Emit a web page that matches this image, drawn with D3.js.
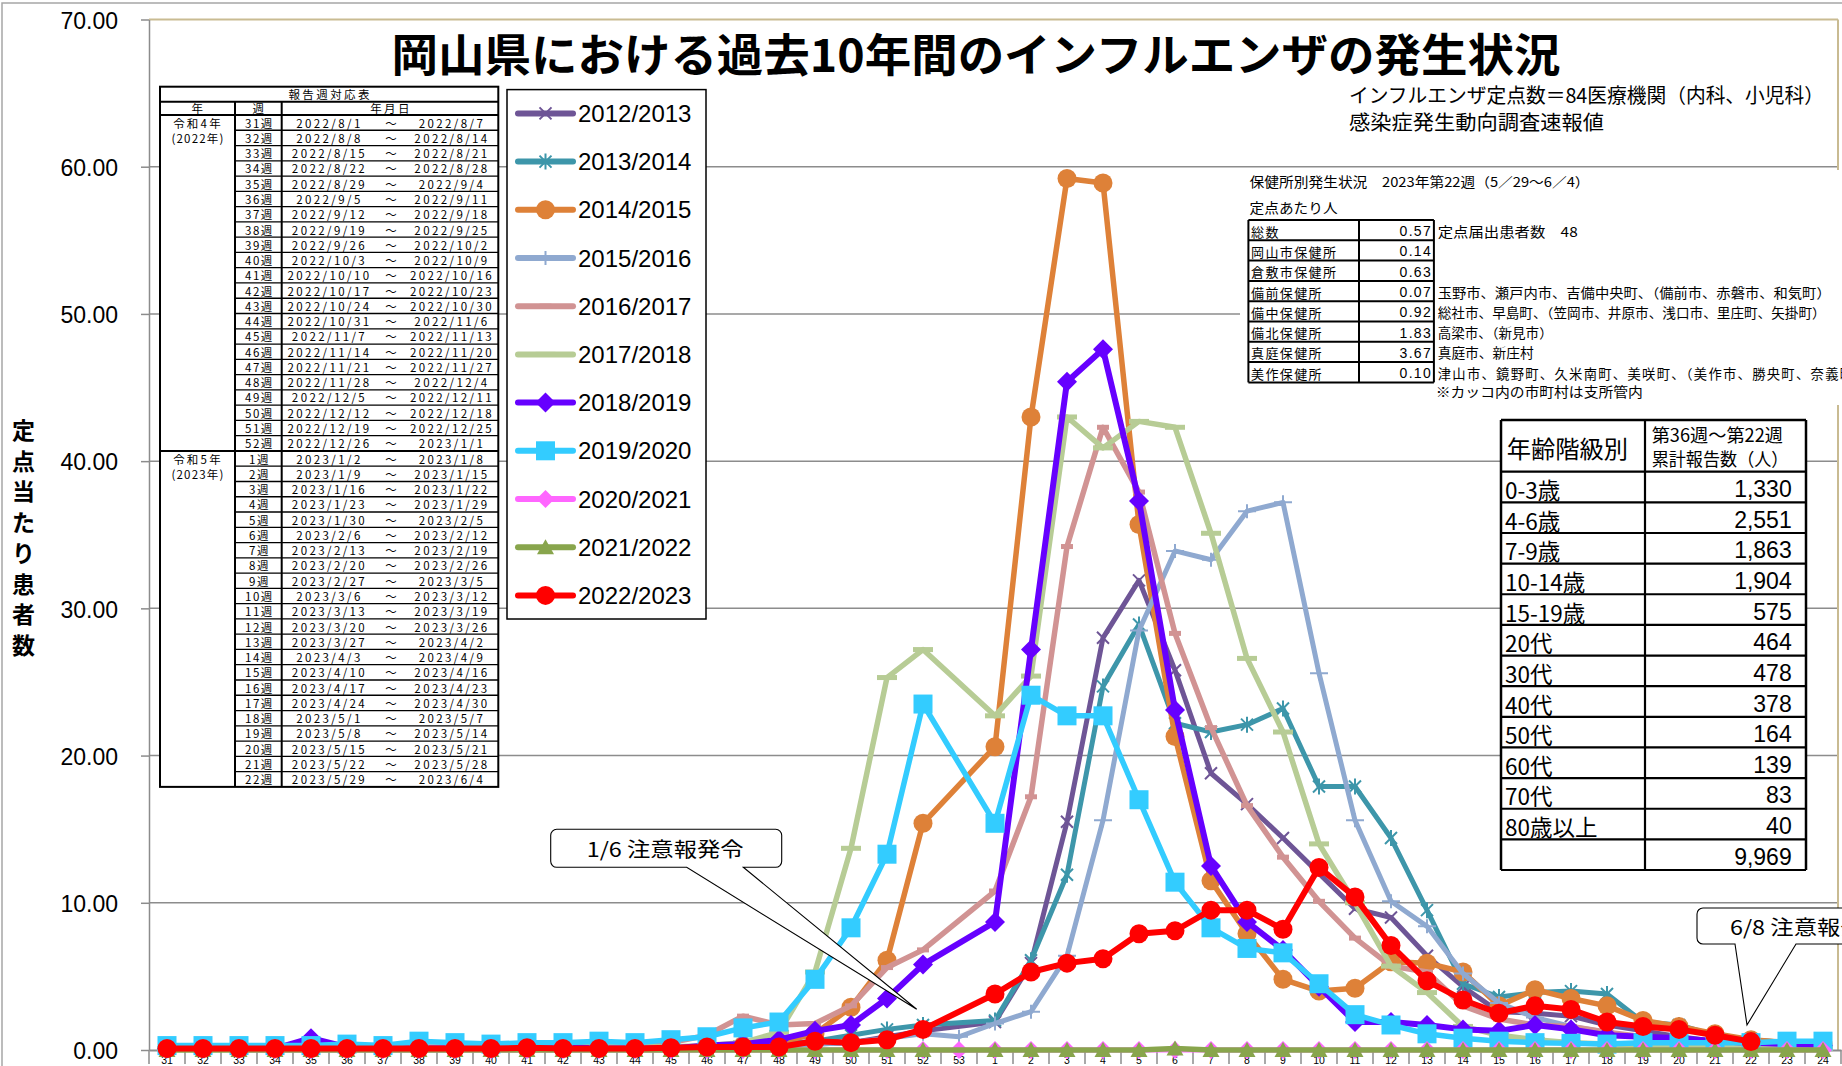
<!DOCTYPE html>
<html lang="ja">
<head>
<meta charset="utf-8">
<title>岡山県における過去10年間のインフルエンザの発生状況</title>
<script src="https://cdn.jsdelivr.net/npm/d3@7/dist/d3.min.js"></script>
<style>
  html, body { margin:0; padding:0; background:#ffffff; overflow:hidden; }
  svg { display:block; }
</style>
</head>
<body>
<svg id="chart" width="1842" height="1066" viewBox="0 0 1842 1066"></svg>
<script>
// ================= DATA =================
const weeks = ["31","32","33","34","35","36","37","38","39","40","41","42","43","44","45","46","47","48","49","50","51","52","53",
               "1","2","3","4","5","6","7","8","9","10","11","12","13","14","15","16","17","18","19","20","21","22","23","24"];

const seasons = ["2012/2013","2013/2014","2014/2015","2015/2016","2016/2017","2017/2018",
                 "2018/2019","2019/2020","2020/2021","2021/2022","2022/2023"];

//                31 ... 45                                                         46 ... 52                     53    1 ... 24
const v2012_13 = [0.1,0.1,0.1,0.1,0.1,0.1,0.1,0.1,0.1,0.1,0.1,0.1,0.1,0.2,0.2, 0.2,0.2,0.3,0.4,0.5,0.9,1.3, null,
                  1.9,5.9,15.5,28.0,31.9,25.8,18.8,16.7,14.4,12.0,9.6,9.0,6.4,4.3,2.6,2.5,2.3,1.7,1.3,0.9,0.6,0.4,0.3,0.3];
const v2013_14 = [0.1,0.1,0.1,0.1,0.1,0.1,0.1,0.1,0.1,0.1,0.1,0.1,0.2,0.2,0.2, 0.2,0.3,0.4,0.6,1.0,1.4,1.7, null,
                  2.0,6.1,11.9,24.7,28.9,22.2,21.6,22.1,23.2,17.9,17.9,14.4,9.5,4.5,3.6,3.9,4.0,3.8,1.9,1.7,1.0,0.7,0.5,0.4];
const v2014_15 = [0.1,0.1,0.1,0.1,0.1,0.1,0.1,0.1,0.1,0.1,0.1,0.1,0.1,0.2,0.2, 0.2,0.3,0.5,1.1,2.9,6.1,15.4, null,
                  20.6,43.0,59.2,58.9,35.7,21.3,11.5,7.9,4.8,4.0,4.2,6.0,5.9,5.3,3.0,4.1,3.5,3.0,2.0,1.6,1.1,0.7,0.5,0.4];
const v2015_16 = [0.1,0.1,0.1,0.1,0.1,0.1,0.1,0.1,0.1,0.1,0.1,0.1,0.1,0.1,0.1, 0.1,0.2,0.3,0.4,0.5,0.8,1.1, 0.9,
                  1.8,2.6,6.4,15.6,28.5,33.9,33.3,36.6,37.2,25.6,15.6,10.1,8.4,5.2,3.2,2.2,1.6,1.2,0.8,0.6,0.4,0.3,0.3,0.2];
const v2016_17 = [0.2,0.2,0.2,0.2,0.2,0.2,0.2,0.2,0.2,0.2,0.3,0.3,0.3,0.4,0.5, 1.0,2.3,1.7,1.8,3.0,5.6,6.8, null,
                  10.8,17.2,34.2,42.3,37.9,28.3,21.9,16.6,13.1,10.1,7.6,5.7,5.3,3.0,2.1,1.7,1.6,1.2,0.9,0.6,0.4,0.3,0.2,0.2];
const v2017_18 = [0.1,0.1,0.1,0.1,0.1,0.1,0.1,0.1,0.1,0.1,0.1,0.2,0.2,0.2,0.2, 0.3,0.5,1.2,5.3,13.7,25.3,27.2, null,
                  22.7,25.4,43.0,40.9,42.7,42.3,35.1,26.6,21.6,14.0,10.0,5.7,3.9,1.6,1.0,0.7,0.5,0.4,0.3,0.2,0.2,0.1,0.1,0.1];
const v2018_19 = [0.1,0.1,0.1,0.1,0.8,0.2,0.1,0.1,0.1,0.1,0.1,0.2,0.1,0.1,0.1, 0.3,0.4,0.7,1.3,1.7,3.5,5.8, null,
                  8.7,27.2,45.4,47.6,37.3,23.1,12.5,8.7,6.8,4.3,1.9,1.9,1.7,1.4,1.3,1.7,1.4,1.0,0.9,0.8,0.6,0.5,0.4,0.3];
const v2019_20 = [0.3,0.3,0.3,0.3,0.3,0.4,0.3,0.6,0.5,0.4,0.5,0.5,0.6,0.5,0.7, 0.9,1.5,1.9,4.8,8.3,13.3,23.5, null,
                  15.4,24.1,22.7,22.7,17.0,11.4,8.3,6.9,6.6,4.5,2.4,1.7,1.1,0.8,0.6,0.5,0.45,0.4,0.5,0.5,0.5,0.5,0.6,0.6];
const v2020_21 = [0.1,0.1,0.0,0.0,0.0,0.0,0.0,0.0,0.0,0.0,0.0,0.0,0.0,0.0,0.0, 0.0,0.0,0.0,0.0,0.0,0.0,0.0, 0.0,
                  0.0,0.0,0.0,0.0,0.0,0.0,0.0,0.0,0.0,0.0,0.0,0.0,0.0,0.0,0.0,0.0,0.0,0.0,0.0,0.0,0.0,0.0,0.0,0.0];
const v2021_22 = [0.0,0.0,0.0,0.0,0.0,0.0,0.0,0.0,0.0,0.0,0.0,0.0,0.0,0.0,0.0, 0.0,0.0,0.0,0.0,0.0,0.0,0.0, null,
                  0.0,0.0,0.0,0.0,0.0,0.1,0.0,0.0,0.0,0.0,0.0,0.0,0.0,0.0,0.0,0.0,0.0,0.0,0.0,0.0,0.0,0.0,0.0,0.0];
const v2022_23 = [0.1,0.1,0.1,0.1,0.1,0.1,0.1,0.1,0.1,0.1,0.15,0.1,0.1,0.1,0.15, 0.2,0.2,0.2,0.6,0.5,0.7,1.4, null,
                  3.8,5.3,5.9,6.2,7.9,8.1,9.5,9.5,8.2,12.4,10.4,7.1,4.7,3.4,2.5,3.0,2.75,1.9,1.6,1.4,1.0,0.57,null,null];

const seasonValues = [v2012_13,v2013_14,v2014_15,v2015_16,v2016_17,v2017_18,v2018_19,v2019_20,v2020_21,v2021_22,v2022_23];

const yTicks = [0,10,20,30,40,50,60,70];

// 報告週対応表
const tableWeeks = ["31週","32週","33週","34週","35週","36週","37週","38週","39週","40週","41週","42週","43週","44週","45週",
                    "46週","47週","48週","49週","50週","51週","52週",
                    "1週","2週","3週","4週","5週","6週","7週","8週","9週","10週","11週","12週","13週","14週","15週",
                    "16週","17週","18週","19週","20週","21週","22週"];
const tableStart = ["2022/8/1","2022/8/8","2022/8/15","2022/8/22","2022/8/29","2022/9/5","2022/9/12","2022/9/19","2022/9/26",
                    "2022/10/3","2022/10/10","2022/10/17","2022/10/24","2022/10/31","2022/11/7","2022/11/14","2022/11/21",
                    "2022/11/28","2022/12/5","2022/12/12","2022/12/19","2022/12/26",
                    "2023/1/2","2023/1/9","2023/1/16","2023/1/23","2023/1/30","2023/2/6","2023/2/13","2023/2/20","2023/2/27",
                    "2023/3/6","2023/3/13","2023/3/20","2023/3/27","2023/4/3","2023/4/10","2023/4/17","2023/4/24",
                    "2023/5/1","2023/5/8","2023/5/15","2023/5/22","2023/5/29"];
const tableEnd   = ["2022/8/7","2022/8/14","2022/8/21","2022/8/28","2022/9/4","2022/9/11","2022/9/18","2022/9/25","2022/10/2",
                    "2022/10/9","2022/10/16","2022/10/23","2022/10/30","2022/11/6","2022/11/13","2022/11/20","2022/11/27",
                    "2022/12/4","2022/12/11","2022/12/18","2022/12/25","2023/1/1",
                    "2023/1/8","2023/1/15","2023/1/22","2023/1/29","2023/2/5","2023/2/12","2023/2/19","2023/2/26","2023/3/5",
                    "2023/3/12","2023/3/19","2023/3/26","2023/4/2","2023/4/9","2023/4/16","2023/4/23","2023/4/30",
                    "2023/5/7","2023/5/14","2023/5/21","2023/5/28","2023/6/4"];
const tableYears = [["令和4年","(2022年)"],["令和5年","(2023年)"]];

// 保健所別発生状況
const hcNames  = ["総数","岡山市保健所","倉敷市保健所","備前保健所","備中保健所","備北保健所","真庭保健所","美作保健所"];
const hcValues = ["0.57","0.14","0.63","0.07","0.92","1.83","3.67","0.10"];
const hcNotes  = ["定点届出患者数　48","","",
                  "玉野市、瀬戸内市、吉備中央町、（備前市、赤磐市、和気町）",
                  "総社市、早島町、（笠岡市、井原市、浅口市、里庄町、矢掛町）",
                  "高梁市、（新見市）","真庭市、新庄村",
                  "津山市、鏡野町、久米南町、美咲町、（美作市、勝央町、奈義町、西粟倉村）"];
const hcNoteWidth = [140, 0, 0, 393, 388, 115, 96, 0];

// 年齢階級別
const ageGroups = ["0-3歳","4-6歳","7-9歳","10-14歳","15-19歳","20代","30代","40代","50代","60代","70代","80歳以上"];
const ageCounts = [1330,2551,1863,1904,575,464,478,378,164,139,83,40];

// ================= STYLE =================
const seasonColor  = ["#6E5596","#3D96AA","#DE8138","#8FA9D0","#D19393","#B7CC95","#6600FF","#33CCFF","#FF66FF","#88A54C","#FF0000"];
const seasonMarker = ["x","star","circle","plus","dashS","dashL","diamond","square","diamondS","triangle","circle"];
const seasonWidth  = [5,5,5.5,5,5.5,5.5,6,5.5,5,5.5,6];

const JP  = "'Noto Sans CJK JP','Noto Sans JP',sans-serif";
const LAT = "'Liberation Sans',Arial,sans-serif";
const GRID = "#8c8c8c";
const TAN  = "#c9bb92";

const svg = d3.select("#chart");
const W = 1842, H = 1066;
const X0 = 149, X1 = 1841, Y0 = 1050, YT = 19.5;

const x = d3.scaleBand().domain(weeks).range([X0, X1]).paddingInner(0).paddingOuter(0);
const cx = w => x(w) + x.bandwidth() / 2;
const y = d3.scaleLinear().domain([0, 70]).range([Y0, YT]);

svg.append("rect").attr("x",0).attr("y",0).attr("width",W).attr("height",H).attr("fill","#fff");
svg.append("rect").attr("x",2).attr("y",3).attr("width",W+10).attr("height",H+10)
   .attr("fill","none").attr("stroke","#a6a6a6").attr("stroke-width",1.5);

// gridlines
svg.append("g").selectAll("line").data(yTicks.filter(v => v > 0 && v < 70)).join("line")
   .attr("x1",X0).attr("x2",1838).attr("y1",d=>y(d)).attr("y2",d=>y(d))
   .attr("stroke",GRID).attr("stroke-width",1.5);
// plot area border (top / right)
svg.append("line").attr("x1",X0).attr("x2",1838).attr("y1",y(70)).attr("y2",y(70)).attr("stroke",TAN).attr("stroke-width",2);
svg.append("line").attr("x1",1838).attr("x2",1838).attr("y1",y(70)).attr("y2",Y0).attr("stroke",TAN).attr("stroke-width",2);

// y axis
const gy = svg.append("g").attr("transform",`translate(${X0},0)`)
   .call(d3.axisLeft(y).tickValues(yTicks).tickFormat(d3.format(".2f")).tickSizeInner(8).tickSizeOuter(0).tickPadding(23));
gy.select(".domain").attr("stroke",GRID).attr("stroke-width",1.5);
gy.selectAll(".tick line").attr("stroke",GRID).attr("stroke-width",1.5);
gy.selectAll(".tick text").attr("font-family",LAT).attr("font-size",23).attr("fill","#000").attr("dy","0.38em");

// x axis
const gx = svg.append("g").attr("transform",`translate(0,${Y0})`)
   .call(d3.axisBottom(x).tickSizeInner(0).tickSizeOuter(0).tickPadding(7));
gx.select(".domain").attr("stroke",GRID).attr("stroke-width",2);
gx.selectAll(".tick text").attr("font-family",LAT).attr("font-size",10.5).attr("fill","#000");
svg.append("g").selectAll("line").data(d3.range(weeks.length + 1)).join("line")
   .attr("x1",k => X0 + k * x.step()).attr("x2",k => X0 + k * x.step())
   .attr("y1",Y0).attr("y2",Y0 + 14).attr("stroke",GRID).attr("stroke-width",1.5);

// markers
function drawMarker(g, type, px, py, color) {
  switch (type) {
    case "x":
      g.append("path").attr("d",`M${px-6},${py-6}L${px+6},${py+6}M${px-6},${py+6}L${px+6},${py-6}`)
       .attr("stroke",color).attr("stroke-width",2).attr("fill","none"); break;
    case "star":
      g.append("path").attr("d",`M${px-6},${py-6}L${px+6},${py+6}M${px-6},${py+6}L${px+6},${py-6}M${px},${py-8}L${px},${py+8}`)
       .attr("stroke",color).attr("stroke-width",2).attr("fill","none"); break;
    case "plus":
      g.append("path").attr("d",`M${px-9},${py}H${px+9}M${px},${py-7}V${py+7}`)
       .attr("stroke",color).attr("stroke-width",2).attr("fill","none"); break;
    case "circle":
      g.append("circle").attr("cx",px).attr("cy",py).attr("r",9.5).attr("fill",color); break;
    case "dashS":
      g.append("rect").attr("x",px-6).attr("y",py-2.5).attr("width",12).attr("height",5).attr("fill",color); break;
    case "dashL":
      g.append("rect").attr("x",px-10).attr("y",py-2.5).attr("width",20).attr("height",5).attr("fill",color); break;
    case "diamond":
      g.append("path").attr("d",`M${px},${py-10}L${px+10},${py}L${px},${py+10}L${px-10},${py}Z`).attr("fill",color); break;
    case "diamondS":
      g.append("path").attr("d",`M${px},${py-9}L${px+9},${py}L${px},${py+9}L${px-9},${py}Z`).attr("fill",color); break;
    case "square":
      g.append("rect").attr("x",px-9.5).attr("y",py-9.5).attr("width",19).attr("height",19).attr("fill",color); break;
    case "triangle":
      g.append("path").attr("d",`M${px},${py-8}L${px+8.5},${py+7}L${px-8.5},${py+7}Z`).attr("fill",color); break;
  }
}

// series
const line = d3.line().x(d => cx(d.w)).y(d => y(d.v));
seasonValues.forEach((vals, si) => {
  const pts = weeks.map((w, i) => ({ w, v: vals[i] })).filter(d => d.v !== null);
  const g = svg.append("g").attr("class","series");
  g.append("path").datum(pts).attr("d",line).attr("fill","none")
   .attr("stroke",seasonColor[si]).attr("stroke-width",seasonWidth[si])
   .attr("stroke-linejoin","round").attr("stroke-linecap","round");
  pts.forEach(d => drawMarker(g, seasonMarker[si], cx(d.w), y(d.v), seasonColor[si]));
});

// ================= TITLE =================
svg.append("text").attr("x",391.5).attr("y",72).attr("font-family",JP).attr("font-weight",700)
   .attr("font-size",45).attr("textLength",1169).attr("lengthAdjust","spacingAndGlyphs")
   .text("岡山県における過去10年間のインフルエンザの発生状況");
svg.append("text").attr("x",1349).attr("y",103).attr("font-family",JP).attr("font-size",20)
   .attr("textLength",475).attr("lengthAdjust","spacingAndGlyphs")
   .text("インフルエンザ定点数＝84医療機関（内科、小児科）");
svg.append("text").attr("x",1349).attr("y",130).attr("font-family",JP).attr("font-size",20)
   .attr("textLength",255).attr("lengthAdjust","spacingAndGlyphs")
   .text("感染症発生動向調査速報値");

// y-axis title (vertical)
const ytitle = "定点当たり患者数";
svg.append("g").selectAll("text").data(Array.from(ytitle)).join("text")
   .attr("x",23.5).attr("y",(d,i) => 429 + i * 30.7).attr("text-anchor","middle").attr("dominant-baseline","central")
   .attr("font-family",JP).attr("font-weight",700).attr("font-size",23).text(d => d);

// ================= LEGEND =================
const lg = svg.append("g");
lg.append("rect").attr("x",507).attr("y",89.6).attr("width",199).attr("height",529.4)
  .attr("fill","#fff").attr("stroke","#000").attr("stroke-width",1.5);
seasons.forEach((s, i) => {
  const ly = 113.4 + i * 48.2;
  lg.append("line").attr("x1",518).attr("x2",573).attr("y1",ly).attr("y2",ly)
    .attr("stroke",seasonColor[i]).attr("stroke-width",6).attr("stroke-linecap","round");
  drawMarker(lg, seasonMarker[i], 545.5, ly, seasonColor[i]);
  lg.append("text").attr("x",578).attr("y",ly + 8.6).attr("font-family",LAT).attr("font-size",24).text(s);
});

// ================= 報告週対応表 =================
(function(){
  const x0 = 160, x1 = 235, x2 = 281.7, x3 = 498.3;
  const yT = 86.7, yHd = 101.7, yD = 115, rh = 15.27;
  const n = tableWeeks.length, yB = yD + n * rh;
  const g = svg.append("g").attr("font-family",JP).attr("font-size",11.5);
  g.append("rect").attr("x",x0).attr("y",yT).attr("width",x3-x0).attr("height",yB-yT).attr("fill","#fff");
  const L = (a,b,c,d,w) => g.append("line").attr("x1",a).attr("y1",b).attr("x2",c).attr("y2",d).attr("stroke","#000").attr("stroke-width",w);
  L(x0,yHd,x3,yHd,2); L(x0,yD,x3,yD,2);
  L(x1,yHd,x1,yB,2); L(x2,yHd,x2,yB,2);
  for (let k = 1; k < n; k++) {
    const yy = yD + k * rh;
    if (k === 22) L(x0,yy,x3,yy,2); else L(x1,yy,x3,yy,1.3);
  }
  g.append("rect").attr("x",x0).attr("y",yT).attr("width",x3-x0).attr("height",yB-yT).attr("fill","none").attr("stroke","#000").attr("stroke-width",2);
  const T = (tx,ty,s,anchor="middle",ls=2.4) => g.append("text").attr("x",tx).attr("y",ty).attr("text-anchor",anchor)
      .attr("dominant-baseline","central").attr("letter-spacing",ls).text(s);
  T((x0+x3)/2 + 1, (yT+yHd)/2, "報告週対応表");
  T((x0+x1)/2 + 1, (yHd+yD)/2, "年");
  T((x1+x2)/2 + 1, (yHd+yD)/2, "週");
  T((x2+x3)/2 + 1, (yHd+yD)/2, "年月日");
  T(198, 122.5, tableYears[0][0], "middle", 2.2);
  T(198, 138, tableYears[0][1], "middle", 1.2);
  T(198, 459, tableYears[1][0], "middle", 2.2);
  T(198, 474, tableYears[1][1], "middle", 1.2);
  tableWeeks.forEach((w,k) => {
    const cy = yD + (k + 0.5) * rh;
    T(259.5, cy, w, "middle", 1.5);
    T(329.5, cy, tableStart[k]);
    T(391, cy, "～", "middle", 0);
    T(452, cy, tableEnd[k]);
  });
})();

// ================= 保健所別発生状況 =================
(function(){
  const g = svg.append("g").attr("font-family",JP);
  g.append("rect").attr("x",1240).attr("y",170).attr("width",610).attr("height",235).attr("fill","#fff");
  g.append("text").attr("x",1249.6).attr("y",181).attr("dominant-baseline","central").attr("font-size",13.5)
   .attr("textLength",340).attr("lengthAdjust","spacingAndGlyphs").text("保健所別発生状況　2023年第22週（5／29～6／4）");
  g.append("text").attr("x",1249.6).attr("y",207).attr("dominant-baseline","central").attr("font-size",13.5)
   .attr("textLength",88).attr("lengthAdjust","spacingAndGlyphs").text("定点あたり人");
  const x0 = 1248.4, x1 = 1359, x2 = 1433.9, y0 = 220, rh = 20.3;
  const n = hcNames.length;
  for (let k = 0; k <= n; k++)
    g.append("line").attr("x1",x0).attr("x2",x2).attr("y1",y0+k*rh).attr("y2",y0+k*rh).attr("stroke","#000").attr("stroke-width",2);
  [x0,x1,x2].forEach(xx => g.append("line").attr("x1",xx).attr("x2",xx).attr("y1",y0).attr("y2",y0+n*rh).attr("stroke","#000").attr("stroke-width",2));
  hcNames.forEach((nm,k) => {
    const cy = y0 + (k + 0.5) * rh + 1;
    g.append("text").attr("x",1251).attr("y",cy).attr("dominant-baseline","central").attr("font-size",13).attr("letter-spacing",1.4).text(nm);
    g.append("text").attr("x",1432).attr("y",cy).attr("dominant-baseline","central").attr("text-anchor","end")
     .attr("font-family",LAT).attr("font-size",14).attr("letter-spacing",1.3).text(hcValues[k]);
    if (hcNotes[k]) {
      const t = g.append("text").attr("x",1437.7).attr("y",cy).attr("dominant-baseline","central")
       .attr("font-size",13.3).text(hcNotes[k]);
      if (hcNoteWidth[k]) t.attr("textLength",hcNoteWidth[k]).attr("lengthAdjust","spacingAndGlyphs");
      else t.attr("letter-spacing",1.3);
    }
  });
  g.append("text").attr("x",1435.8).attr("y",391).attr("dominant-baseline","central").attr("font-size",13.5)
   .attr("textLength",207).attr("lengthAdjust","spacingAndGlyphs").text("※カッコ内の市町村は支所管内");
})();

// ================= 年齢階級別 =================
(function(){
  const g = svg.append("g").attr("font-family",JP);
  const x0 = 1501, x1 = 1645, x2 = 1806, y0 = 420, yH = 471.7, rh = 30.64;
  const rows = ageGroups.length + 1, yB = yH + rows * rh;
  g.append("rect").attr("x",x0).attr("y",y0).attr("width",x2-x0).attr("height",yB-y0).attr("fill","#fff");
  const L = (a,b,c,d,w) => g.append("line").attr("x1",a).attr("y1",b).attr("x2",c).attr("y2",d).attr("stroke","#000").attr("stroke-width",w);
  for (let k = 0; k <= rows; k++) L(x0, yH + k*rh, x2, yH + k*rh, 2.2);
  L(x0,y0,x2,y0,2.5); L(x0,y0,x0,yB,2.5); L(x1,y0,x1,yB,2.2); L(x2,y0,x2,yB,2.5);
  g.append("text").attr("x",1506.7).attr("y",447).attr("dominant-baseline","central").attr("font-size",24)
   .attr("textLength",121.3).attr("lengthAdjust","spacingAndGlyphs").text("年齢階級別");
  g.append("text").attr("x",1651.7).attr("y",434).attr("dominant-baseline","central").attr("font-size",18)
   .attr("textLength",131.3).attr("lengthAdjust","spacingAndGlyphs").text("第36週～第22週");
  g.append("text").attr("x",1651.7).attr("y",457.5).attr("dominant-baseline","central").attr("font-size",18)
   .attr("textLength",136.7).attr("lengthAdjust","spacingAndGlyphs").text("累計報告数（人）");
  const fmt = d3.format(",");
  const counts = ageCounts.concat([d3.sum(ageCounts)]);
  const labels = ageGroups.concat([""]);
  labels.forEach((lb,k) => {
    const cy = yH + (k + 0.5) * rh + 2;
    if (lb) g.append("text").attr("x",1505).attr("y",cy).attr("dominant-baseline","central").attr("font-size",22.5).text(lb);
    g.append("text").attr("x",1791.7).attr("y",cy).attr("dominant-baseline","central").attr("text-anchor","end")
     .attr("font-family",LAT).attr("font-size",23).text(fmt(counts[k]));
  });
})();

// ================= CALLOUTS =================
function callout(bx, by, bw, bh, r, b1, b2, tx, ty, label, textX) {
  const g = svg.append("g");
  const p = `M${bx+r},${by}H${bx+bw-r}A${r},${r} 0 0 1 ${bx+bw},${by+r}V${by+bh-r}A${r},${r} 0 0 1 ${bx+bw-r},${by+bh}` +
            `H${b2}L${tx},${ty}L${b1},${by+bh}H${bx+r}A${r},${r} 0 0 1 ${bx},${by+bh-r}V${by+r}A${r},${r} 0 0 1 ${bx+r},${by}Z`;
  g.append("path").attr("d",p).attr("fill","#fff").attr("stroke","#000").attr("stroke-width",1.1);
  g.append("text").attr("x",textX).attr("y",by + bh/2).attr("dominant-baseline","central")
   .attr("font-family",JP).attr("font-size",20).attr("textLength",157).attr("lengthAdjust","spacingAndGlyphs").text(label);
}
callout(550.7, 829.3, 231, 38, 6, 686.7, 743.3, 916.7, 1009.3, "1/6 注意報発令", 586.7);
callout(1697, 908, 231, 36, 6, 1735, 1796, 1747, 1025, "6/8 注意報発令", 1730);
</script>
</body>
</html>
